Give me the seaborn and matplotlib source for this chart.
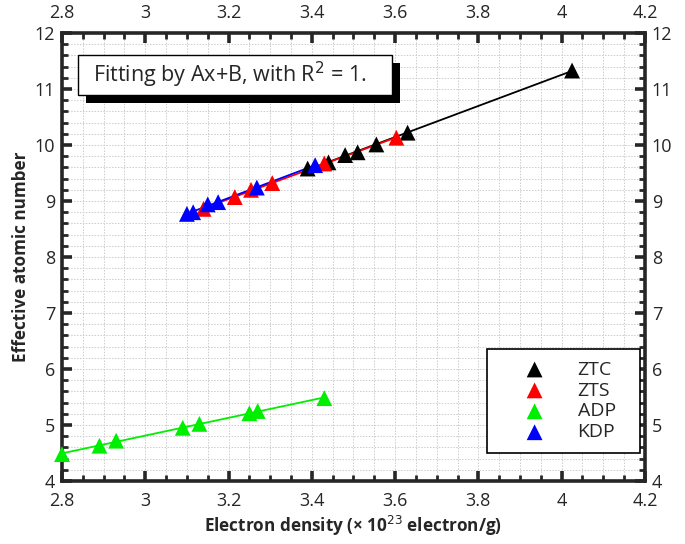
import numpy as np
import pandas as pd
import matplotlib
matplotlib.use('Agg')
import matplotlib.pyplot as plt
import matplotlib.patheffects as pe
from matplotlib.patches import Rectangle
from matplotlib.ticker import MultipleLocator
import seaborn as sns

# values
ztc_x = [3.39, 3.44, 3.48, 3.51, 3.555, 3.63, 4.025]
ztc_y = [9.58, 9.69, 9.82, 9.87, 10.01, 10.22, 11.33]

zts_x = [3.14, 3.215, 3.254, 3.305, 3.43, 3.603]
zts_y = [8.86, 9.07, 9.20, 9.32, 9.67, 10.13]

adp_x = [2.80, 2.89, 2.93, 3.09, 3.13, 3.25, 3.27, 3.43]
adp_y = [4.48, 4.63, 4.72, 4.95, 5.02, 5.21, 5.25, 5.48]

kdp_x = [3.10, 3.115, 3.15, 3.175, 3.268, 3.408]
kdp_y = [8.77, 8.80, 8.94, 8.98, 9.24, 9.64]

series = [('ZTC', ztc_x, ztc_y, '#000000'),
          ('ZTS', zts_x, zts_y, '#ff0000'),
          ('ADP', adp_x, adp_y, '#00ee00'),
          ('KDP', kdp_x, kdp_y, '#0000ff')]

sns.set_style('ticks')
plt.rcParams['font.family'] = ['Open Sans', 'DejaVu Sans']

fig = plt.figure(figsize=(6.85, 5.44), dpi=100)
ax = fig.add_axes([0.0905, 0.1158, 0.851, 0.8235])

# fitted lines first, markers on top
for name, xs, ys, col in series:
    df = pd.DataFrame({'x': xs, 'y': ys})
    sns.regplot(data=df, x='x', y='y', ax=ax, scatter=False, ci=None,
                color=col, line_kws={'linewidth': 1.3}, truncate=True)
for name, xs, ys, col in series:
    df = pd.DataFrame({'x': xs, 'y': ys})
    sns.scatterplot(data=df, x='x', y='y', ax=ax, marker='^', s=130,
                    color=col, edgecolor='none', label=name, zorder=3,
                    clip_on=False)

ax.set_xlim(2.8, 4.2)
ax.set_ylim(4, 12)
ax.xaxis.set_minor_locator(MultipleLocator(0.05))
ax.yaxis.set_major_locator(MultipleLocator(1))
ax.yaxis.set_minor_locator(MultipleLocator(0.2))
ax.set_xticks(np.arange(2.8, 4.21, 0.2))
ax.set_xticklabels(['2.8', '3', '3.2', '3.4', '3.6', '3.8', '4', '4.2'])

ax.grid(which='both', color='#cccccc', linestyle=(0, (1.5, 1.5)), linewidth=0.7)
ax.set_axisbelow(True)
for sp in ax.spines.values():
    sp.set_linewidth(2.6)
ax.tick_params(which='both', direction='in', top=True, right=True,
               labeltop=True, labelright=True, labelsize=13)
ax.tick_params(axis='x', which='both', pad=8)
ax.tick_params(axis='y', which='both', pad=5)
ax.tick_params(which='major', length=7, width=2.6)
ax.tick_params(which='minor', length=4, width=2.0)

ax.set_xlabel('Electron density (× 10$^{23}$ electron/g)', fontsize=12.3,
              fontweight='bold', labelpad=3)
ax.set_ylabel('Effective atomic number', fontsize=12.3, fontweight='bold',
              labelpad=3)

# annotation box with a hard black shadow
sx, sy = 8 / 583, 8 / 448
ax.add_patch(Rectangle((0.0274 + sx, 0.862 - sy), 0.5386, 0.089,
                       transform=ax.transAxes, facecolor='black',
                       edgecolor='none', zorder=4))
ax.add_patch(Rectangle((0.0274, 0.862), 0.5386, 0.089,
                       transform=ax.transAxes, facecolor='white',
                       edgecolor='black', linewidth=1.0, zorder=4))
ax.text(0.053, 0.906, 'Fitting by Ax+B, with R$^2$ = 1.', transform=ax.transAxes,
        fontsize=15.5, va='center', ha='left', zorder=5)

leg = ax.legend(loc='lower left', bbox_to_anchor=(0.729, 0.0625, 0.262, 0.241),
                mode='expand', fontsize=14, frameon=True, fancybox=False,
                edgecolor='black', handletextpad=0.36, borderpad=0.6,
                labelspacing=0.15, borderaxespad=0, handlelength=3.7)
leg.get_frame().set_linewidth(1.2)
leg.get_frame().set_alpha(1)
leg.set_zorder(5)

fig.savefig('out.png', dpi=100)
